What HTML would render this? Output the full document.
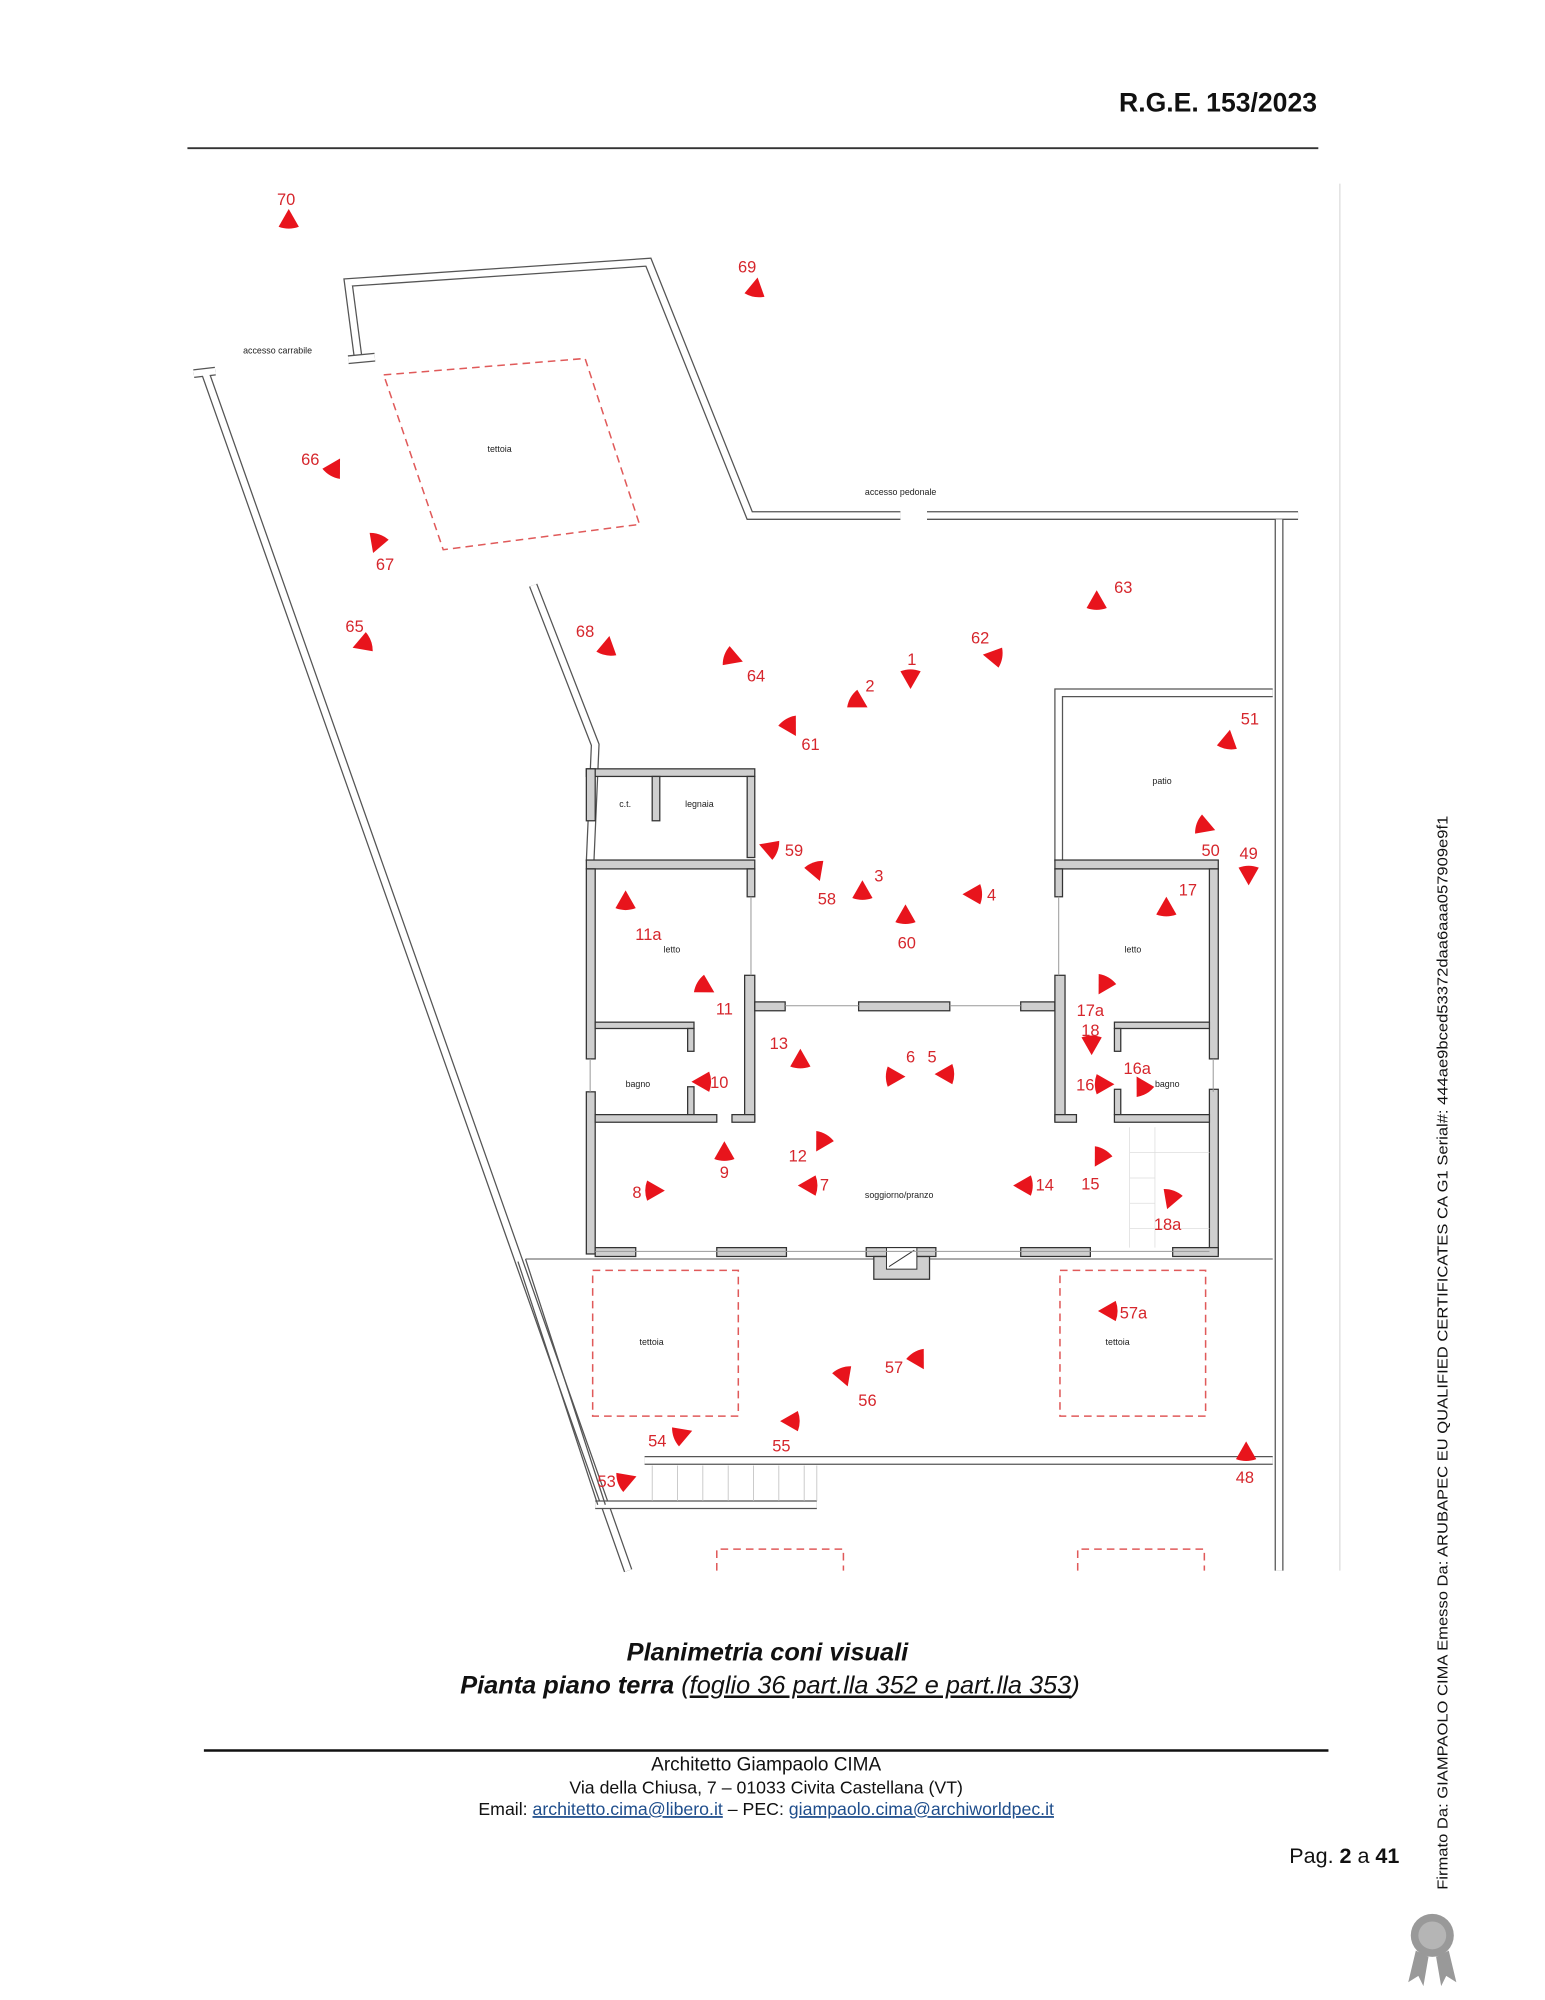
<!DOCTYPE html>
<html><head><meta charset="utf-8"><style>
html,body{margin:0;padding:0;background:#fff}
svg{display:block}
.lb{font-family:"Liberation Sans",sans-serif;font-size:13px;fill:#d6262c}
.sm{font-family:"Liberation Sans",sans-serif;font-size:7px;fill:#222}
.dw{fill:none;stroke:#555;stroke-width:7}
.dwi{fill:none;stroke:#fff;stroke-width:5}
.g{fill:#cfcfcf;stroke:#333;stroke-width:1}
.dash{fill:none;stroke:#e05a5a;stroke-width:1.2;stroke-dasharray:6 4}
.t{fill:#e8141c}
</style></head><body>
<svg width="1545" height="2000" viewBox="0 0 1220 1579" preserveAspectRatio="none" xmlns="http://www.w3.org/2000/svg">
<defs><path id="m" d="M-7,0 L7,-8 Q10,0 7,8 Z"/></defs>
<text x="1040" y="88" text-anchor="end" font-family="Liberation Sans,sans-serif" font-weight="bold" font-size="21" fill="#111">R.G.E. 153/2023</text>
<line x1="148" y1="117" x2="1041" y2="117" stroke="#333" stroke-width="1.5"/>
<line x1="1058" y1="145" x2="1058" y2="1240" stroke="#ddd" stroke-width="1"/>

<g>
<path class="dw" d="M283,284 L275,223 L512,207 L592,407 L711,407 M732,407 L1025,407"/>
<path class="dwi" d="M283,284 L275,223 L512,207 L592,407 L711,407 M732,407 L1025,407"/>
<path class="dw" d="M275,284 L296,282"/><path class="dwi" d="M275,284 L296,282"/>
<path class="dw" d="M153,295 L170,293 M162,294 L496,1240"/>
<path class="dwi" d="M153,295 L170,293 M162,294 L496,1240"/>
<path class="dw" d="M421,462 L470,588 L466,680"/><path class="dwi" d="M421,462 L470,588 L466,680"/>
<path class="dw" d="M1010,410 L1010,1240"/><path class="dwi" d="M1010,410 L1010,1240"/>
<path class="dw" d="M836,680 L836,547 L1005,547"/><path class="dwi" d="M836,680 L836,547 L1005,547"/>
<path class="dw" d="M509,1153 L1005,1153"/><path class="dwi" d="M509,1153 L1005,1153"/>
<path class="dw" d="M470,1188 L645,1188"/><path class="dwi" d="M470,1188 L645,1188"/>
</g>
<line x1="415" y1="994" x2="1005" y2="994" stroke="#777" stroke-width="1"/>
<line x1="415" y1="994" x2="478" y2="1188" stroke="#555" stroke-width="1"/>
<line x1="409" y1="996" x2="472" y2="1188" stroke="#555" stroke-width="1"/>
<g stroke="#bbb" stroke-width="0.6">
<line x1="515" y1="1157" x2="515" y2="1185"/><line x1="535" y1="1157" x2="535" y2="1185"/><line x1="555" y1="1157" x2="555" y2="1185"/><line x1="575" y1="1157" x2="575" y2="1185"/><line x1="595" y1="1157" x2="595" y2="1185"/><line x1="615" y1="1157" x2="615" y2="1185"/><line x1="635" y1="1157" x2="635" y2="1185"/><line x1="645" y1="1157" x2="645" y2="1185"/>
</g>

<path class="dash" d="M303,296 L462,283 L505,414 L350,434 Z"/>
<rect class="dash" x="468" y="1003" width="115" height="115"/>
<rect class="dash" x="837" y="1003" width="115" height="115"/>
<path class="dash" d="M566,1240 L566,1223 L666,1223 L666,1240 M851,1240 L851,1223 L951,1223 L951,1240"/>

<g class="g">
<rect x="463" y="607" width="133" height="6"/>
<rect x="463" y="607" width="7" height="41"/>
<rect x="515" y="613" width="6" height="35"/>
<rect x="590" y="613" width="6" height="64"/>
<rect x="463" y="679" width="133" height="7"/>
<rect x="463" y="686" width="7" height="150"/>
<rect x="463" y="862" width="7" height="128"/>
<rect x="590" y="686" width="6" height="22"/>
<rect x="588" y="770" width="8" height="115"/>
<rect x="596" y="791" width="24" height="7"/>
<rect x="678" y="791" width="72" height="7"/>
<rect x="806" y="791" width="27" height="7"/>
<rect x="470" y="807" width="78" height="5"/>
<rect x="543" y="812" width="5" height="18"/>
<rect x="543" y="858" width="5" height="22"/>
<rect x="470" y="880" width="96" height="6"/>
<rect x="578" y="880" width="18" height="6"/>
<rect x="833" y="679" width="129" height="7"/>
<rect x="833" y="686" width="6" height="22"/>
<rect x="833" y="770" width="8" height="115"/>
<rect x="955" y="686" width="7" height="150"/>
<rect x="955" y="860" width="7" height="130"/>
<rect x="880" y="807" width="75" height="5"/>
<rect x="880" y="812" width="5" height="18"/>
<rect x="880" y="860" width="5" height="20"/>
<rect x="833" y="880" width="17" height="6"/>
<rect x="880" y="880" width="75" height="6"/>
<rect x="470" y="985" width="32" height="7"/>
<rect x="566" y="985" width="55" height="7"/>
<rect x="684" y="985" width="55" height="7"/>
<path d="M690,992 L734,992 L734,1010 L690,1010 Z"/>
<rect x="806" y="985" width="55" height="7"/>
<rect x="926" y="985" width="36" height="7"/>
</g>
<rect x="700" y="985" width="24" height="17" fill="#fff" stroke="#333" stroke-width="0.8"/>
<line x1="702" y1="1000" x2="722" y2="987" stroke="#333" stroke-width="0.8"/>
<g stroke="#999" stroke-width="0.8">
<line x1="470" y1="988" x2="955" y2="988"/>
<line x1="466" y1="836" x2="466" y2="862"/><line x1="958" y1="836" x2="958" y2="862"/>
<line x1="593" y1="708" x2="593" y2="770"/><line x1="836" y1="708" x2="836" y2="770"/>
<line x1="620" y1="794" x2="678" y2="794"/><line x1="750" y1="794" x2="806" y2="794"/>
</g>
<g stroke="#ddd" stroke-width="0.6">
<line x1="892" y1="890" x2="892" y2="985"/><line x1="912" y1="890" x2="912" y2="985"/>
<line x1="892" y1="910" x2="955" y2="910"/><line x1="892" y1="930" x2="912" y2="930"/><line x1="892" y1="950" x2="912" y2="950"/><line x1="892" y1="970" x2="955" y2="970"/>
</g>

<text class="sm" x="192" y="279">accesso carrabile</text>
<text class="sm" x="385" y="357">tettoia</text>
<text class="sm" x="683" y="391">accesso pedonale</text>
<text class="sm" x="910" y="619">patio</text>
<text class="sm" x="489" y="637">c.t.</text>
<text class="sm" x="541" y="637">legnaia</text>
<text class="sm" x="524" y="752">letto</text>
<text class="sm" x="888" y="752">letto</text>
<text class="sm" x="494" y="858">bagno</text>
<text class="sm" x="912" y="858">bagno</text>
<text class="sm" x="683" y="946">soggiorno/pranzo</text>
<text class="sm" x="505" y="1062">tettoia</text>
<text class="sm" x="873" y="1062">tettoia</text>

<g class="t">
<use href="#m" transform="translate(228,172) rotate(90)"/>
<use href="#m" transform="translate(597,226) rotate(100)"/>
<use href="#m" transform="translate(265,368) rotate(120)"/>
<use href="#m" transform="translate(297,430) rotate(-70)"/>
<use href="#m" transform="translate(285,509) rotate(-20)"/>
<use href="#m" transform="translate(480,509) rotate(100)"/>
<use href="#m" transform="translate(580,520) rotate(200)"/>
<use href="#m" transform="translate(719,537) rotate(-90)"/>
<use href="#m" transform="translate(679,555) rotate(-150)"/>
<use href="#m" transform="translate(783,518) rotate(10)"/>
<use href="#m" transform="translate(866,473) rotate(90)"/>
<use href="#m" transform="translate(625,575) rotate(-120)"/>
<use href="#m" transform="translate(970,583) rotate(100)"/>
<use href="#m" transform="translate(953,653) rotate(200)"/>
<use href="#m" transform="translate(986,692) rotate(-90)"/>
<use href="#m" transform="translate(606,669) rotate(20)"/>
<use href="#m" transform="translate(645,689) rotate(-110)"/>
<use href="#m" transform="translate(681,702) rotate(90)"/>
<use href="#m" transform="translate(715,721) rotate(90)"/>
<use href="#m" transform="translate(767,706) rotate(0)"/>
<use href="#m" transform="translate(921,715) rotate(90)"/>
<use href="#m" transform="translate(494,710) rotate(90)"/>
<use href="#m" transform="translate(558,780) rotate(-150)"/>
<use href="#m" transform="translate(871,779) rotate(-60)"/>
<use href="#m" transform="translate(862,826) rotate(-90)"/>
<use href="#m" transform="translate(632,835) rotate(90)"/>
<use href="#m" transform="translate(708,850) rotate(180)"/>
<use href="#m" transform="translate(745,848) rotate(0)"/>
<use href="#m" transform="translate(553,854) rotate(0)"/>
<use href="#m" transform="translate(873,856) rotate(180)"/>
<use href="#m" transform="translate(901,856) rotate(60)"/>
<use href="#m" transform="translate(572,908) rotate(90)"/>
<use href="#m" transform="translate(648,903) rotate(-60)"/>
<use href="#m" transform="translate(868,915) rotate(-60)"/>
<use href="#m" transform="translate(518,940) rotate(180)"/>
<use href="#m" transform="translate(637,936) rotate(0)"/>
<use href="#m" transform="translate(807,936) rotate(0)"/>
<use href="#m" transform="translate(924,948) rotate(-70)"/>
<use href="#m" transform="translate(874,1035) rotate(0)"/>
<use href="#m" transform="translate(726,1075) rotate(-120)"/>
<use href="#m" transform="translate(667,1088) rotate(-110)"/>
<use href="#m" transform="translate(623,1122) rotate(0)"/>
<use href="#m" transform="translate(540,1132) rotate(160)"/>
<use href="#m" transform="translate(496,1168) rotate(160)"/>
<use href="#m" transform="translate(984,1145) rotate(90)"/>
</g>
<g class="lb" text-anchor="middle">
<text x="226" y="162">70</text><text x="590" y="215">69</text><text x="245" y="367">66</text><text x="304" y="450">67</text>
<text x="280" y="499">65</text><text x="462" y="503">68</text><text x="597" y="538">64</text><text x="720" y="525">1</text>
<text x="687" y="546">2</text><text x="774" y="508">62</text><text x="887" y="468">63</text><text x="640" y="592">61</text>
<text x="987" y="572">51</text><text x="956" y="676">50</text><text x="986" y="678">49</text><text x="627" y="676">59</text>
<text x="653" y="714">58</text><text x="694" y="696">3</text><text x="716" y="749">60</text><text x="783" y="711">4</text>
<text x="938" y="707">17</text><text x="512" y="742">11a</text><text x="572" y="801">11</text><text x="861" y="802">17a</text>
<text x="861" y="818">18</text><text x="615" y="828">13</text><text x="719" y="839">6</text><text x="736" y="839">5</text>
<text x="568" y="859">10</text><text x="857" y="861">16</text><text x="898" y="848">16a</text><text x="572" y="930">9</text>
<text x="630" y="917">12</text><text x="861" y="939">15</text><text x="503" y="946">8</text><text x="651" y="940">7</text>
<text x="825" y="940">14</text><text x="922" y="971">18a</text><text x="895" y="1041">57a</text><text x="706" y="1084">57</text>
<text x="685" y="1110">56</text><text x="617" y="1146">55</text><text x="519" y="1142">54</text><text x="479" y="1174">53</text>
<text x="983" y="1171">48</text>
</g>

<g font-family="Liberation Sans,sans-serif" font-weight="bold" font-style="italic" font-size="20" fill="#111" text-anchor="middle">
<text x="606" y="1311">Planimetria coni visuali</text>
<text x="608" y="1337">Pianta piano terra <tspan font-weight="normal">(<tspan text-decoration="underline">foglio 36 part.lla 352 e part.lla 353</tspan>)</tspan></text>
</g>
<line x1="161" y1="1382" x2="1049" y2="1382" stroke="#111" stroke-width="2"/>
<g font-family="Liberation Sans,sans-serif" fill="#111" text-anchor="middle">
<text x="605" y="1398" font-size="15">Architetto Giampaolo CIMA</text>
<text x="605" y="1416" font-size="14">Via della Chiusa, 7 – 01033 Civita Castellana (VT)</text>
<text x="605" y="1433" font-size="14">Email: <tspan fill="#1f4e8c" text-decoration="underline">architetto.cima@libero.it</tspan> – PEC: <tspan fill="#1f4e8c" text-decoration="underline">giampaolo.cima@archiworldpec.it</tspan></text>
</g>
<text x="1105" y="1471" text-anchor="end" font-family="Liberation Sans,sans-serif" font-size="17" fill="#111">Pag. <tspan font-weight="bold">2</tspan> a <tspan font-weight="bold">41</tspan></text>
<text transform="translate(1143,1492) rotate(-90)" font-family="Liberation Sans,sans-serif" font-size="12" fill="#111" textLength="848" lengthAdjust="spacingAndGlyphs">Firmato Da: GIAMPAOLO CIMA Emesso Da: ARUBAPEC EU QUALIFIED CERTIFICATES CA G1 Serial#: 444ae9bced53372daa6aaa057909e9f1</text>
<g fill="#999">
<circle cx="1131" cy="1528" r="17"/>
<circle cx="1131" cy="1528" r="11" fill="#b5b5b5"/>
<path d="M1118,1540 L1112,1565 L1120,1560 L1124,1568 L1128,1545 Z"/>
<path d="M1144,1540 L1150,1565 L1142,1560 L1138,1568 L1134,1545 Z"/>
</g>
</svg>
</body></html>
